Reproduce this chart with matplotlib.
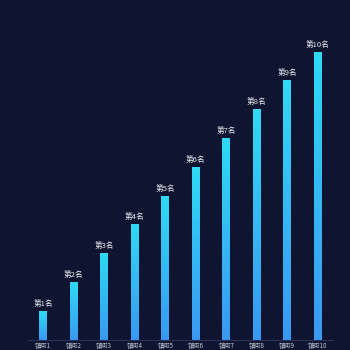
import numpy as np
import matplotlib
matplotlib.use("Agg")
import matplotlib.pyplot as plt
from matplotlib.colors import LinearSegmentedColormap

plt.rcParams["font.family"] = ["Noto Sans CJK SC", "DejaVu Sans"]

categories = ["镇街1", "镇街2", "镇街3", "镇街4", "镇街5",
              "镇街6", "镇街7", "镇街8", "镇街9", "镇街10"]
values = [1, 2, 3, 4, 5, 6, 7, 8, 9, 10]
rank_labels = ["第1名", "第2名", "第3名", "第4名", "第5名",
               "第6名", "第7名", "第8名", "第9名", "第10名"]

bg = "#0f1530"
grad = LinearSegmentedColormap.from_list("bar", ["#3a98f2", "#2fdaf5"])

fig = plt.figure(figsize=(3.5, 3.5), dpi=100, facecolor=bg)
ax = fig.add_axes([28 / 350, 10 / 350, 305 / 350, 288 / 350])
ax.set_facecolor(bg)

x = np.arange(len(categories))
bars = ax.bar(x, values, width=0.25, color="none")
gradient = np.linspace(0, 1, 256).reshape(-1, 1)
for rect in bars:
    x0, w, h = rect.get_x(), rect.get_width(), rect.get_height()
    ax.imshow(gradient, cmap=grad, origin="lower", aspect="auto",
              extent=(x0, x0 + w, 0, h), zorder=2)

for xi, v, lab in zip(x, values, rank_labels):
    ax.annotate(lab, (xi, v), xytext=(0, 2.5), textcoords="offset points",
                ha="center", va="bottom", fontsize=5.5, color="#e6e8ee",
                annotation_clip=False)

ax.set_xlim(-0.5, len(categories) - 0.5)
ax.set_ylim(0, 10)
ax.set_xticks(x)
ax.set_xticklabels(categories, fontsize=4.5, color="#c4c8d2")
ax.tick_params(axis="x", length=0, pad=1.5)
ax.set_yticks([])
for side in ["top", "right", "left"]:
    ax.spines[side].set_visible(False)
ax.spines["bottom"].set_color("#2a3456")
ax.spines["bottom"].set_linewidth(0.8)

fig.savefig("out.png", dpi=100, facecolor=bg)
